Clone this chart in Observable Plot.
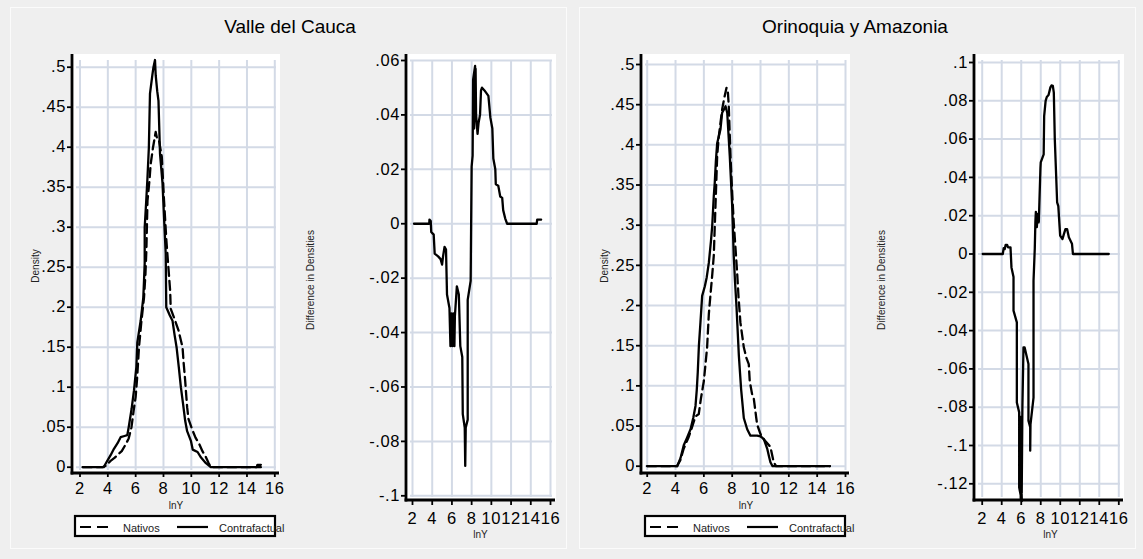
<!DOCTYPE html>
<html><head><meta charset="utf-8">
<script src="https://cdn.jsdelivr.net/npm/d3@7"></script>
<script src="https://cdn.jsdelivr.net/npm/@observablehq/plot@0.6"></script>
<style>
html,body{margin:0;padding:0;background:#efefef;}
#root{position:relative;width:1143px;height:559px;overflow:hidden;background:#efefef;font-family:"Liberation Sans",Arial,sans-serif;color:#000;}
.panel{position:absolute;border:1px solid #fbfbfb;box-sizing:border-box;}
</style></head><body><div id="root"></div>
<script>
// ---------- data ----------
const panelTitles = ["Valle del Cauca", "Orinoquia y Amazonia"];
const seriesNames = ["Nativos", "Contrafactual"];
const xTitle = "lnY";
const yTitleDensity = "Density";
const yTitleDiff = "Difference in Densities";
const xTicks = [2, 4, 6, 8, 10, 12, 14, 16];
const densityTicks = [0, .05, .1, .15, .2, .25, .3, .35, .4, .45, .5];
const diffTicksValle = [-.1, -.08, -.06, -.04, -.02, 0, .02, .04, .06];
const diffTicksOrin = [-.12, -.1, -.08, -.06, -.04, -.02, 0, .02, .04, .06, .08, .1];

const valleNativos = [[2.2,0],[3.6,0],[3.9,0.002],[4.2,0.008],[4.5,0.012],[4.8,0.017],[5.0,0.02],[5.3,0.029],[5.5,0.036],[5.7,0.05],[5.85,0.07],[6.0,0.088],[6.1,0.11],[6.24,0.15],[6.4,0.18],[6.6,0.212],[6.7,0.24],[6.77,0.271],[6.85,0.333],[7.0,0.36],[7.08,0.379],[7.25,0.4],[7.44,0.419],[7.55,0.41],[7.68,0.408],[7.88,0.388],[8.04,0.333],[8.21,0.283],[8.36,0.248],[8.48,0.22],[8.52,0.198],[8.8,0.185],[9.08,0.171],[9.37,0.15],[9.45,0.13],[9.56,0.108],[9.6,0.098],[9.7,0.075],[9.8,0.06],[10.09,0.046],[10.3,0.037],[10.57,0.029],[10.8,0.02],[11.05,0.0125],[11.25,0.005],[11.4,0],[15.0,0]];
const valleContra = [[2.2,0],[3.7,0],[3.96,0.008],[4.2,0.015],[4.44,0.023],[4.7,0.03],[4.92,0.0375],[5.2,0.039],[5.4,0.04],[5.5,0.05],[5.71,0.073],[5.88,0.096],[6.05,0.125],[6.12,0.156],[6.36,0.183],[6.55,0.212],[6.6,0.233],[6.65,0.255],[6.65,0.3],[6.75,0.33],[6.85,0.362],[6.95,0.4],[7.03,0.467],[7.2,0.49],[7.28,0.5],[7.39,0.509],[7.44,0.49],[7.55,0.47],[7.64,0.458],[7.75,0.392],[7.93,0.355],[8.04,0.312],[8.16,0.267],[8.2,0.2],[8.45,0.19],[8.65,0.183],[8.8,0.165],[8.94,0.15],[9.1,0.125],[9.25,0.1],[9.4,0.08],[9.56,0.058],[9.7,0.045],[9.97,0.033],[10.1,0.022],[10.45,0.019],[10.7,0.012],[11.05,0.005],[11.4,0],[14.7,0],[14.75,0.003],[15.0,0.003]];
const valleDiff = [[2.15,0],[3.7,0],[3.72,0.0015],[3.85,0.001],[3.9,-0.003],[4.15,-0.004],[4.25,-0.011],[4.6,-0.012],[4.85,-0.013],[5.0,-0.015],[5.1,-0.012],[5.25,-0.0085],[5.4,-0.0095],[5.5,-0.026],[5.75,-0.031],[5.85,-0.045],[5.95,-0.033],[6.05,-0.045],[6.15,-0.033],[6.25,-0.045],[6.3,-0.034],[6.5,-0.023],[6.7,-0.026],[6.85,-0.045],[7.05,-0.049],[7.1,-0.07],[7.3,-0.075],[7.35,-0.089],[7.4,-0.075],[7.6,-0.072],[7.6,-0.028],[7.9,-0.021],[8.0,0.021],[8.1,0.025],[8.15,0.053],[8.35,0.058],[8.25,0.035],[8.4,0.057],[8.45,0.04],[8.6,0.033],[8.7,0.037],[8.85,0.04],[8.95,0.049],[9.05,0.05],[9.3,0.049],[9.5,0.048],[9.7,0.047],[9.9,0.039],[10.1,0.035],[10.2,0.024],[10.4,0.02],[10.45,0.0145],[10.7,0.014],[10.9,0.01],[11.1,0.0095],[11.2,0.005],[11.4,0.002],[11.6,0],[14.6,0],[14.65,0.0015],[15.05,0.0015]];

const orinNativos = [[2.0,0],[4.1,0],[4.35,0.008],[4.58,0.022],[4.9,0.035],[5.1,0.045],[5.41,0.062],[5.64,0.065],[5.8,0.085],[6.0,0.106],[6.23,0.148],[6.35,0.189],[6.47,0.214],[6.6,0.24],[6.7,0.262],[6.82,0.324],[6.94,0.386],[7.05,0.41],[7.17,0.427],[7.3,0.445],[7.46,0.46],[7.6,0.471],[7.7,0.465],[7.76,0.448],[7.88,0.386],[8.0,0.34],[8.11,0.303],[8.2,0.28],[8.35,0.241],[8.45,0.21],[8.58,0.179],[8.82,0.148],[9.0,0.135],[9.17,0.127],[9.24,0.106],[9.4,0.09],[9.52,0.085],[9.7,0.06],[9.76,0.052],[10.0,0.04],[10.1,0.036],[10.4,0.03],[10.7,0.024],[10.93,0.005],[11.1,0],[14.9,0]];
const orinContra = [[2.0,0],[4.12,0],[4.35,0.01],[4.58,0.026],[4.8,0.035],[5.06,0.046],[5.25,0.06],[5.41,0.075],[5.5,0.095],[5.57,0.117],[5.65,0.15],[5.76,0.179],[5.88,0.212],[6.07,0.224],[6.2,0.235],[6.35,0.253],[6.5,0.28],[6.59,0.299],[6.7,0.336],[6.77,0.353],[6.85,0.38],[6.94,0.402],[7.17,0.419],[7.29,0.44],[7.45,0.445],[7.53,0.448],[7.65,0.44],[7.83,0.386],[8.0,0.324],[8.11,0.262],[8.2,0.23],[8.3,0.2],[8.47,0.138],[8.63,0.096],[8.82,0.06],[9.06,0.046],[9.29,0.038],[9.5,0.038],[9.76,0.038],[10.0,0.037],[10.23,0.034],[10.47,0.022],[10.6,0.012],[10.7,0.005],[10.85,0],[14.9,0]];
const orinDiff = [[2.05,0],[4.11,0],[4.2,0.003],[4.31,0.0026],[4.4,0.0047],[4.56,0.0047],[4.65,0.0035],[4.9,0.0035],[5.0,-0.007],[5.21,-0.012],[5.21,-0.0296],[5.55,-0.0357],[5.55,-0.0775],[5.79,-0.0827],[5.79,-0.122],[6.06,-0.129],[5.85,-0.085],[5.95,-0.128],[6.0,-0.085],[6.05,-0.125],[6.12,-0.08],[6.23,-0.0488],[6.35,-0.0488],[6.74,-0.0574],[6.74,-0.087],[6.92,-0.0905],[6.92,-0.1027],[6.95,-0.089],[7.26,-0.075],[7.26,-0.014],[7.39,0.003],[7.45,0.0165],[7.5,0.022],[7.6,0.014],[7.7,0.021],[7.8,0.0165],[7.97,0.045],[8.0,0.0478],[8.3,0.052],[8.35,0.072],[8.5,0.08],[8.62,0.082],[8.8,0.083],[8.99,0.087],[9.1,0.088],[9.24,0.0878],[9.34,0.0843],[9.44,0.06],[9.68,0.027],[9.8,0.025],[9.99,0.0096],[10.23,0.0078],[10.35,0.01],[10.53,0.013],[10.7,0.013],[10.88,0.0087],[11.2,0.0054],[11.3,0],[14.97,0]];

// ---------- helpers ----------
const FONT = '"Liberation Sans", Arial, Helvetica, sans-serif';
const GRID = "#d3dae6";
const root = document.getElementById("root");

function fmtTick(v) {
  if (Math.abs(v) < 1e-9) return "0";
  const s = (+v.toFixed(3)).toString();
  return s.replace(/^(-?)0\./, "$1.");
}

function panel(l, t, r, b) {
  const d = document.createElement("div");
  d.className = "panel";
  Object.assign(d.style, {left: l + "px", top: t + "px", width: (r - l) + "px", height: (b - t) + "px"});
  root.appendChild(d);
}
panel(10, 7, 567, 549);
panel(579, 7, 1136, 549);

function subplot(cfg) {
  const [L, T, W, H] = cfg.box;
  const f = cfg.frame;
  const mL = f.l - L, mR = L + W - f.r, mT = f.t - T, mB = T + H - f.b;
  const lines = cfg.series.map(s => Plot.line(s.data, {
    x: d => d[0], y: d => d[1], stroke: "#000", strokeWidth: 2.3,
    strokeDasharray: s.dash || null
  }));
  const svg = Plot.plot({
    width: W, height: H,
    marginLeft: mL, marginRight: mR, marginTop: mT, marginBottom: mB,
    insetLeft: cfg.xPx[0] - f.l, insetRight: f.r - cfg.xPx[1],
    insetTop: cfg.yPx[1] - f.t, insetBottom: f.b - cfg.yPx[0],
    x: {domain: [2, 16]},
    y: {domain: cfg.yDomain},
    style: {background: "transparent", fontFamily: FONT, color: "#000", overflow: "visible", letterSpacing: "0.6px"},
    marks: [
      Plot.frame({fill: "white", stroke: "white"}),
      Plot.gridX(xTicks, {stroke: GRID, strokeOpacity: 1, strokeWidth: 2, insetTop: 6, insetBottom: 3}),
      Plot.gridY(cfg.yTicks, {stroke: GRID, strokeOpacity: 1, strokeWidth: 2, insetLeft: 4, insetRight: 3}),
      ...lines,
      Plot.axisX(xTicks, {tickSize: cfg.xTickSize, tickPadding: cfg.xTickPad, fontSize: 16.5, strokeWidth: 1.8, label: null, tickFormat: d => String(d)}),
      Plot.axisY(cfg.yTicks, {tickSize: 5, tickPadding: 1.5, fontSize: 16.5, strokeWidth: 1.8, label: null, tickFormat: fmtTick})
    ]
  });
  svg.style.position = "absolute";
  svg.style.left = L + "px";
  svg.style.top = T + "px";
  const s = d3.select(svg);
  s.append("line").attr("x1", mL).attr("x2", mL).attr("y1", mT).attr("y2", H - mB + 1.4)
    .attr("stroke", "#000").attr("stroke-width", 2.8);
  s.append("line").attr("x1", mL - 1.4).attr("x2", W - mR).attr("y1", H - mB).attr("y2", H - mB)
    .attr("stroke", "#000").attr("stroke-width", 2.8);
  root.appendChild(svg);
}

// Valle del Cauca - density
subplot({box: [0, 40, 300, 480], frame: {l: 72, r: 279, t: 54, b: 473},
  xPx: [79.5, 274.3], yPx: [466.7, 66.7], yDomain: [0, .5], yTicks: densityTicks,
  xTickSize: 4, xTickPad: 5,
  series: [{data: valleNativos, dash: "9,5"}, {data: valleContra}]});
// Valle del Cauca - difference
subplot({box: [300, 40, 270, 500], frame: {l: 406, r: 555, t: 54, b: 500},
  xPx: [412, 550], yPx: [495.3, 60], yDomain: [-.1, .06], yTicks: diffTicksValle,
  xTickSize: 5, xTickPad: 7,
  series: [{data: valleDiff}]});
// Orinoquia - density
subplot({box: [570, 40, 290, 480], frame: {l: 641, r: 849, t: 54, b: 473},
  xPx: [646.7, 845], yPx: [465.7, 64], yDomain: [0, .5], yTicks: densityTicks,
  xTickSize: 4, xTickPad: 5,
  series: [{data: orinNativos, dash: "9,5"}, {data: orinContra}]});
// Orinoquia - difference
subplot({box: [870, 40, 270, 500], frame: {l: 974, r: 1123, t: 54, b: 500},
  xPx: [981.7, 1118.3], yPx: [483.3, 62], yDomain: [-.12, .1], yTicks: diffTicksOrin,
  xTickSize: 5, xTickPad: 7,
  series: [{data: orinDiff}]});

// ---------- overlay texts & legends ----------
const ov = d3.select(root).append("svg")
  .attr("width", 1143).attr("height", 559)
  .style("position", "absolute").style("left", "0px").style("top", "0px")
  .style("overflow", "visible").style("pointer-events", "none")
  .style("font-family", FONT);

[[290, panelTitles[0]], [855, panelTitles[1]]].forEach(([x, t]) => {
  ov.append("text").attr("x", x).attr("y", 33).attr("text-anchor", "middle")
    .attr("font-size", 19).attr("fill", "#000").text(t);
});

[[176, 508.5], [480.5, 537.5], [746, 508.5], [1050.5, 537.5]].forEach(([x, y]) => {
  ov.append("text").attr("x", x).attr("y", y).attr("text-anchor", "middle")
    .attr("font-size", 10).attr("fill", "#222").text(xTitle);
});

[[39, 266, yTitleDensity], [314, 280, yTitleDiff], [608, 266, yTitleDensity], [885, 280, yTitleDiff]].forEach(([x, y, t]) => {
  ov.append("text").attr("x", x).attr("y", y).attr("text-anchor", "middle")
    .attr("transform", `rotate(-90,${x},${y})`)
    .attr("font-size", 10).attr("fill", "#222").text(t);
});

[[74, 515], [644, 515]].forEach(([L, T]) => {
  const g = ov.append("g").attr("transform", `translate(${L},${T})`);
  g.append("rect").attr("x", 1).attr("y", 1).attr("width", 200).attr("height", 20)
    .attr("fill", "#fff").attr("stroke", "#000").attr("stroke-width", 2.2);
  g.append("line").attr("x1", 6).attr("x2", 37).attr("y1", 12).attr("y2", 12)
    .attr("stroke", "#000").attr("stroke-width", 2.2).attr("stroke-dasharray", "11,6");
  g.append("text").attr("x", 49).attr("y", 17).attr("font-size", 11).attr("fill", "#222").text(seriesNames[0]);
  g.append("line").attr("x1", 103).attr("x2", 134).attr("y1", 12).attr("y2", 12)
    .attr("stroke", "#000").attr("stroke-width", 2.2);
  g.append("text").attr("x", 145).attr("y", 17).attr("font-size", 11).attr("fill", "#222").text(seriesNames[1]);
});
</script></body></html>
